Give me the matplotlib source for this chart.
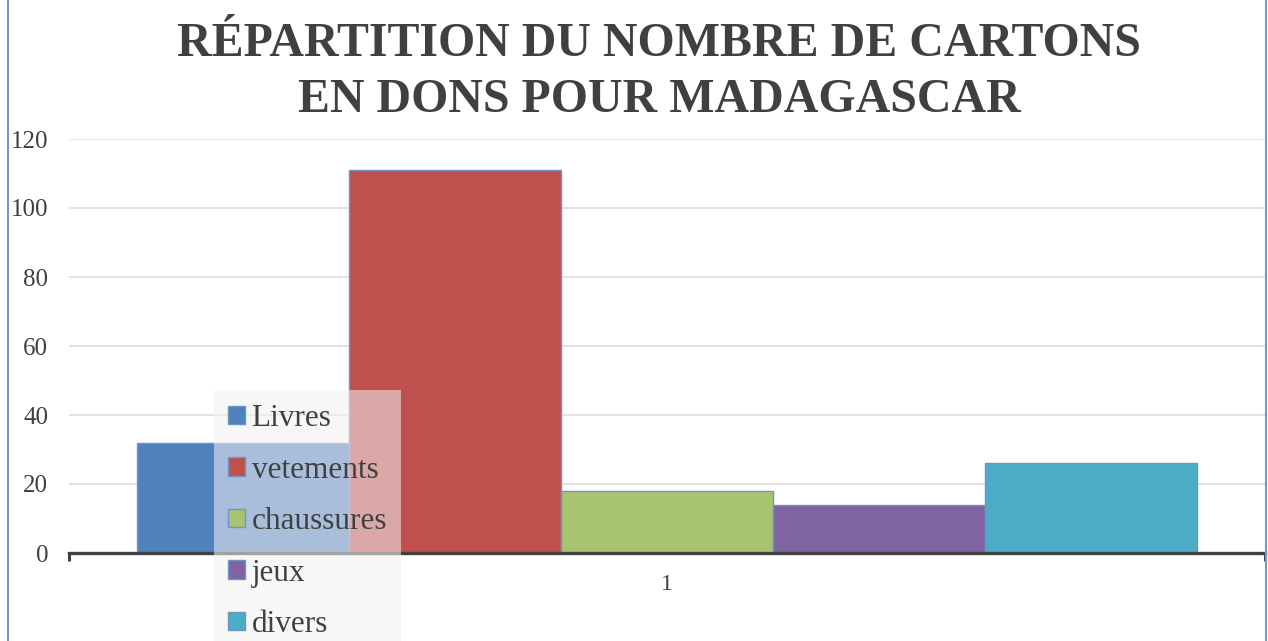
import matplotlib.pyplot as plt
from matplotlib.patches import Patch
from matplotlib.lines import Line2D

# Chart data
categories = ['Livres', 'vetements', 'chaussures', 'jeux', 'divers']
values = [32, 111, 18, 14, 26]
colors = ['#4f81bd', '#c0504d', '#a9c471', '#8064a2', '#4bacc6']
group_label = '1'

plt.rcParams['font.family'] = ['Liberation Serif', 'DejaVu Serif']

fig = plt.figure(figsize=(12.68, 6.41), dpi=100)
ax = fig.add_axes([69 / 1268, 1 - 553 / 641, 1196 / 1268, (553 - 139) / 641])

bar_w = 212 / 1196
n = len(values)
for i, (name, val, col) in enumerate(zip(categories, values, colors)):
    x = 1 + (i - (n - 1) / 2) * bar_w
    ax.bar(x, val, width=bar_w, color=col, edgecolor='#6f93c9', linewidth=1.0,
           label=name, zorder=3)

ax.set_xlim(0.5, 1.5)
ax.set_ylim(0, 120)
ax.set_yticks(range(0, 121, 20))
ax.grid(axis='y', color='#e0e0e0', linewidth=1.3, zorder=0)
ax.tick_params(axis='y', length=0, pad=15, labelsize=18, labelcolor='#404040')
ax.set_xticks([1])
ax.set_xticklabels([group_label])
ax.tick_params(axis='x', length=0, pad=15, labelsize=17, labelcolor='#404040')
ax.set_xticks([0.5, 1.5], minor=True)
ax.tick_params(axis='x', which='minor', length=6, width=2.2, color='#404040')
for side in ['top', 'right', 'left']:
    ax.spines[side].set_visible(False)
ax.spines['bottom'].set_color('#404040')
ax.spines['bottom'].set_linewidth(2.4)
ax.spines['bottom'].set_zorder(4)

fig.text(0.52, 1 - 72 / 641, 'RÉPARTITION DU NOMBRE DE CARTONS\nEN DONS POUR MADAGASCAR',
         ha='center', va='center', fontsize=34.5, fontweight='bold', color='#404040',
         linespacing=1.36)

handles = [Patch(facecolor=c, edgecolor='#6f93c9', linewidth=1.0) for c in colors]
leg = fig.legend(handles, categories, loc='upper left',
                 bbox_to_anchor=(214 / 1268, 1 - 390 / 641),
                 fontsize=22.5, frameon=True, fancybox=False,
                 handlelength=0.55, handleheight=0.55, handletextpad=0.2,
                 labelspacing=0.72, borderpad=0.45, borderaxespad=0)
leg.get_frame().set_facecolor('#f2f2f2')
leg.get_frame().set_alpha(0.55)
leg.get_frame().set_edgecolor('none')
for t in leg.get_texts():
    t.set_color('#404040')

# chart frame lines on the sides
fig.add_artist(Line2D([8 / 1268, 8 / 1268], [0, 1], color='#6d9bd8', linewidth=1.5))
fig.add_artist(Line2D([1266 / 1268, 1266 / 1268], [0, 1], color='#6d9bd8', linewidth=1.5))

fig.savefig('out.png', dpi=100)
